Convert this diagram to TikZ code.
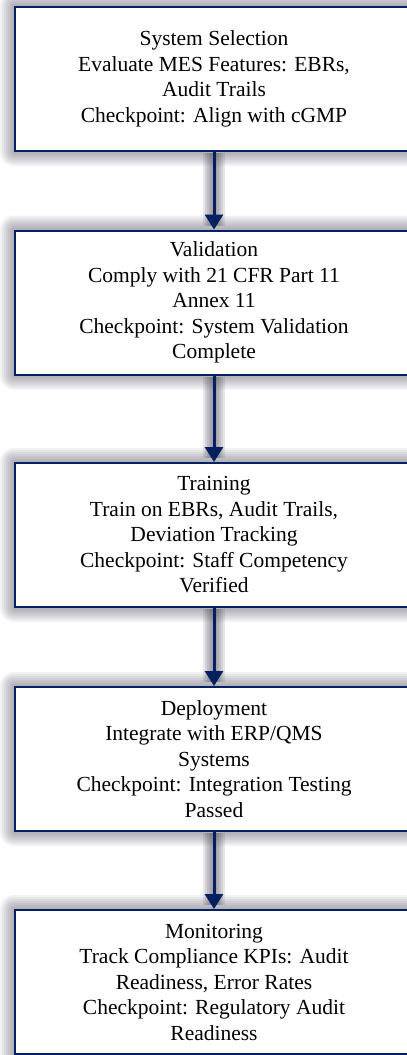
\documentclass[tikz,border=0pt]{standalone}
\usepackage{fontspec}
\setmainfont{Liberation Serif}
\usetikzlibrary{arrows.meta,backgrounds}
\definecolor{navy}{RGB}{0,32,96}
\definecolor{shade}{RGB}{60,55,75}
\tikzset{
  stepbox/.style={draw=navy, line width=2pt, fill=white, minimum width=398pt, minimum height=144pt,
    align=center, inner sep=0pt, font=\fontsize{21.5pt}{25.5pt}\selectfont},
  flow/.style={draw=navy, line width=3pt, -{Triangle[width=18pt,length=15pt]}},
  glow/.style={draw=shade, line width=#1, opacity=0.12},
  halo/.style={fill=shade, opacity=0.065, rounded corners=#1}
}
\begin{document}
\begin{tikzpicture}[x=1pt,y=1pt]
\useasboundingbox (0,0) rectangle (407,-1055);
\node[stepbox] (s1) at (214,-79) {System Selection\\Evaluate MES Features: EBRs,\\Audit Trails\\Checkpoint: Align with cGMP};
\node[stepbox] (s2) at (214,-302.5) {Validation\\Comply with 21 CFR Part 11\\Annex 11\\Checkpoint: System Validation\\Complete};
\node[stepbox] (s3) at (214,-535) {Training\\Train on EBRs, Audit Trails,\\Deviation Tracking\\Checkpoint: Staff Competency\\Verified};
\node[stepbox] (s4) at (214,-759) {Deployment\\Integrate with ERP/QMS\\Systems\\Checkpoint: Integration Testing\\Passed};
\node[stepbox] (s5) at (214,-982) {Monitoring\\Track Compliance KPIs: Audit\\Readiness, Error Rates\\Checkpoint: Regulatory Audit\\Readiness};
\begin{scope}[on background layer]
\foreach \n in {s1,s2,s3,s4,s5}{
  \foreach \r in {2,4,6,8,10,12,14}{
    \fill[halo=\r pt] ([shift={(-\r pt,\r pt)}]\n.north west) rectangle ([shift={(\r pt,-\r pt)}]\n.south east);
  }
}
\end{scope}
\foreach \a/\b in {s1/s2,s2/s3,s3/s4,s4/s5}{
  \foreach \w in {6pt,10pt,14pt,18pt,22pt}{
    \draw[glow=\w] ([yshift=-1pt]\a.south) -- ([yshift=4pt]\b.north);
  }
  \draw[flow] (\a.south) -- (\b.north);
}
\end{tikzpicture}
\end{document}
